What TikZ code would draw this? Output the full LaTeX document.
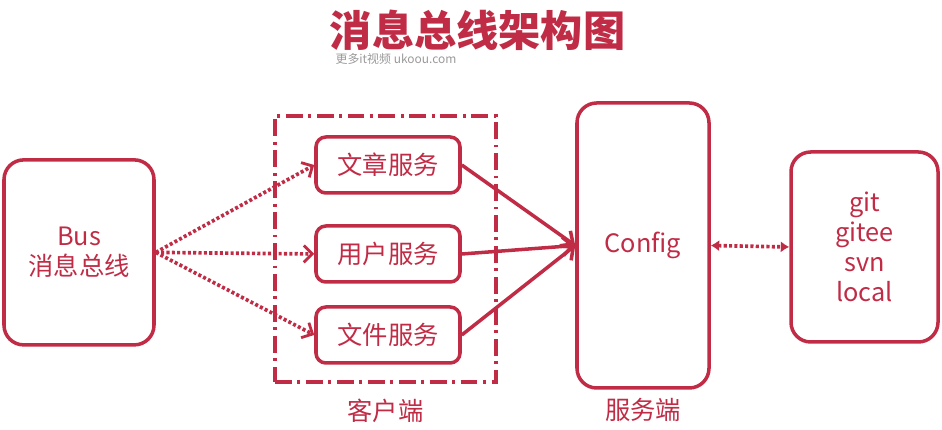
\documentclass[tikz,border=0pt]{standalone}
\usepackage{fontspec}
\setmainfont{Noto Sans CJK SC}
\usetikzlibrary{arrows.meta}
\definecolor{busred}{RGB}{192,44,70}

\begin{document}
\begin{tikzpicture}[>=Straight Barb,
    box/.style={draw=busred,line width=2.5pt,rounded corners=14pt,text=busred,
      align=center,inner sep=0pt,font=\fontsize{18}{21.5}\selectfont},
    svc/.style={box,rounded corners=7pt,minimum width=3.6cm,minimum height=1.4cm},
    caption/.style={text=busred,font=\fontsize{18}{21.5}\selectfont},
    dotarrow/.style={busred,line width=2.6pt,dash pattern=on 2.2pt off 1.6pt},
    solidarrow/.style={busred,line width=2.5pt}]
    \useasboundingbox (0,0) rectangle (23.55,10.75);
    % title and watermark
    \node[text=busred,font=\fontsize{30}{34}\bfseries] (title) at (11.94,9.99) {消息总线架构图};
    \node[text=black!40,font=\fontsize{8.5}{10}\selectfont] (mark) at (9.9,9.27) {更多it视频 ukoou.com};
    % bus
    \node[box,minimum width=3.75cm,minimum height=4.625cm] (bus) at (1.975,4.44) {Bus\\消息总线};
    % client group
    \node[draw=busred,line width=2.5pt,dash pattern=on 12pt off 4pt on 2pt off 4pt,
      minimum width=5.525cm,minimum height=6.65cm] (clients) at (9.6375,4.525) {};
    \node[caption] (clientlbl) at (9.6375,0.48) {客户端};
    \node[svc] (article) at (9.7,6.625) {文章服务};
    \node[svc] (user) at (9.7,4.4) {用户服务};
    \node[svc] (file) at (9.7,2.375) {文件服务};
    % config server
    \node[box,minimum width=3.3cm,minimum height=7.125cm] (config) at (16.075,4.6125) {Config};
    \node[caption] (serverlbl) at (16.075,0.5) {服务端};
    % repositories
    \node[box,minimum width=3.675cm,minimum height=4.75cm] (repo) at (21.6125,4.575) {git\\gitee\\svn\\local};
    % bus to services
    \draw[dotarrow,-{Straight Barb[length=6pt,width=12pt,line width=2pt]}] (bus.east) -- (article.west);
    \draw[dotarrow,-{Straight Barb[length=6pt,width=12pt,line width=2pt]}] (bus.east) -- (user.west);
    \draw[dotarrow,-{Straight Barb[length=6pt,width=12pt,line width=2pt]}] (bus.east) -- (file.west);
    % services to config
    \draw[solidarrow,-{Straight Barb[length=7pt,width=13pt,line width=2.5pt]}] (article.east) -- (config.west);
    \draw[solidarrow,-{Straight Barb[length=7pt,width=13pt,line width=2.5pt]}] (user.east) -- (config.west);
    \draw[solidarrow,-{Straight Barb[length=7pt,width=13pt,line width=2.5pt]}] (file.east) -- (config.west);
    % config to repositories
    \draw[dotarrow,{Latex[length=6pt,width=8pt]}-{Latex[length=6pt,width=8pt]}] (config.east) -- (repo.west);
\end{tikzpicture}
\end{document}
